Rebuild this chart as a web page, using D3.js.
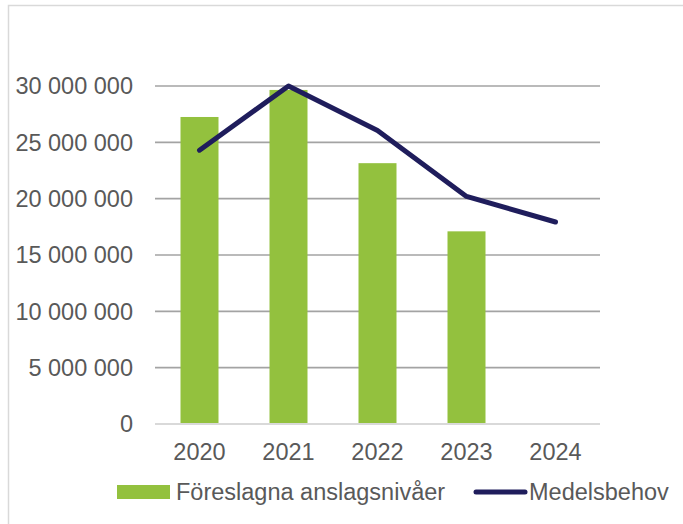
<!DOCTYPE html>
<html><head><meta charset="utf-8">
<script src="https://cdn.jsdelivr.net/npm/d3@7"></script>
<style>body{margin:0;background:#fff}svg{display:block}</style>
</head><body>
<svg id="c" width="683" height="524"></svg>
<script>
const years = ["2020","2021","2022","2023","2024"];
const anslag = [27250000, 29650000, 23150000, 17100000, null];
const behov = [24300000, 30000000, 26050000, 20200000, 17930000];
const yTicks = [0,5000000,10000000,15000000,20000000,25000000,30000000];
const seriesNames = ["Föreslagna anslagsnivåer","Medelsbehov"];

const svg = d3.select("#c");
const font = "'Liberation Sans', Arial, sans-serif";
const txt = "#595959";
svg.append("rect").attr("x",8.5).attr("y",5.5).attr("width",700).attr("height",540)
  .attr("fill","none").attr("stroke","#d9d9d9").attr("stroke-width",1.5);

const x = d3.scaleBand().domain(years).range([155,600]).paddingInner(0.573).paddingOuter(0.2865);
const y = d3.scaleLinear().domain([0,30000000]).range([424,86]);
const fmt = d => d3.format(",")(d).replace(/,/g," ");

const g = svg.append("g");
g.selectAll("line.grid").data(yTicks.filter(d=>d>0)).join("line").attr("class","grid")
  .attr("x1",155).attr("x2",600).attr("y1",d=>y(d)).attr("y2",d=>y(d))
  .attr("stroke","#a3a3a3").attr("stroke-width",1.6);

g.selectAll("text.yl").data(yTicks).join("text").attr("class","yl")
  .attr("x",133).attr("y",d=>y(d)).attr("dy","0.35em").attr("text-anchor","end")
  .attr("font-family",font).attr("font-size",23.5).attr("fill",txt).text(fmt);

g.selectAll("rect.bar").data(years.map((yr,i)=>({yr,v:anslag[i]})).filter(d=>d.v!=null)).join("rect").attr("class","bar")
  .attr("x",d=>x(d.yr)).attr("width",x.bandwidth()).attr("y",d=>y(d.v)).attr("height",d=>y(0)-y(d.v))
  .attr("fill","#93c13e");

g.append("line").attr("x1",155).attr("x2",600).attr("y1",y(0)).attr("y2",y(0))
  .attr("stroke","#d9d9d9").attr("stroke-width",2);

const line = d3.line().x((d,i)=>x(years[i])+x.bandwidth()/2).y(d=>y(d));
g.append("path").attr("d",line(behov)).attr("fill","none").attr("stroke","#1f1d5c")
  .attr("stroke-width",5).attr("stroke-linecap","round").attr("stroke-linejoin","round");

g.selectAll("text.xl").data(years).join("text").attr("class","xl")
  .attr("x",d=>x(d)+x.bandwidth()/2).attr("y",460).attr("text-anchor","middle")
  .attr("font-family",font).attr("font-size",23.5).attr("fill",txt).text(d=>d);

// legend
const lg = svg.append("g");
lg.append("rect").attr("x",117).attr("y",485).attr("width",53).attr("height",14).attr("fill","#93c13e");
lg.append("text").attr("x",176).attr("y",500).attr("font-family",font).attr("font-size",23.5).attr("fill",txt).text(seriesNames[0]);
lg.append("line").attr("x1",476).attr("x2",525).attr("y1",492).attr("y2",492).attr("stroke","#1f1d5c").attr("stroke-width",5).attr("stroke-linecap","round");
lg.append("text").attr("x",529).attr("y",500).attr("font-family",font).attr("font-size",23.5).attr("fill",txt).text(seriesNames[1]);
</script>
</body></html>
